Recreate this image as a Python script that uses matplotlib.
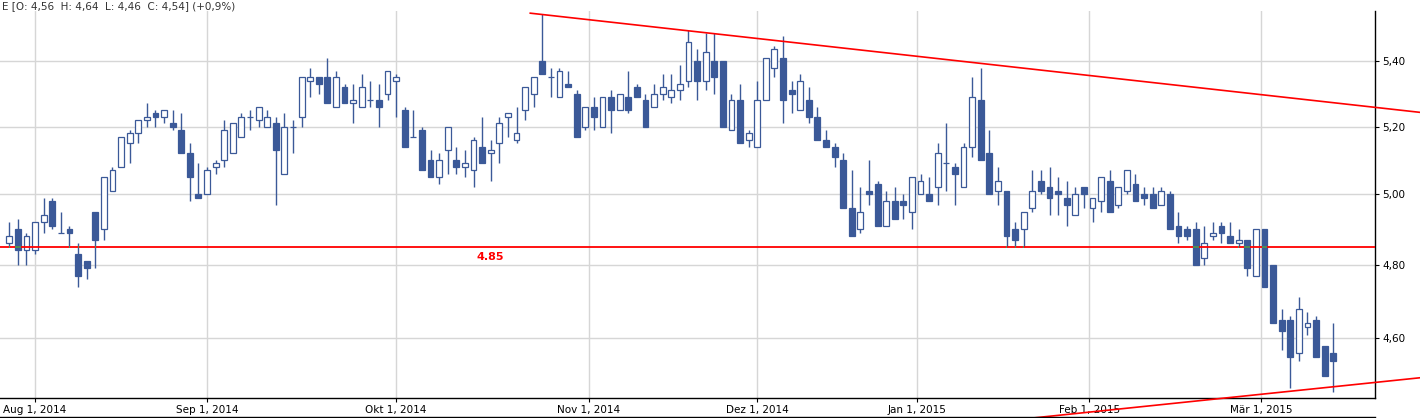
import numpy as np
import matplotlib
matplotlib.use("Agg")
import matplotlib.pyplot as plt
import matplotlib.ticker as mticker
from matplotlib.lines import Line2D

# ---- Style ----
plt.rcParams.update({
    "font.family": "DejaVu Sans",
    "font.size": 7.5,
})

BLUE = "#3b5998"
GRID = "#d6d6d6"

# ---- Data (daily candles, late Jul 2014 - mid Mar 2015) ----
OPEN = [4.86, 4.90, 4.84, 4.84, 4.92, 4.98, 4.89, 4.90, 4.83, 4.81,
        4.95, 4.90, 5.01, 5.08, 5.15, 5.18, 5.22, 5.24, 5.23, 5.21,
        5.19, 5.12, 5.00, 5.00, 5.08, 5.10, 5.12, 5.17, 5.23, 5.22,
        5.20, 5.21, 5.06, 5.20, 5.23, 5.34, 5.35, 5.35, 5.26, 5.32,
        5.27, 5.26, 5.28, 5.28, 5.30, 5.34, 5.25, 5.17, 5.19, 5.10,
        5.05, 5.13, 5.10, 5.08, 5.07, 5.14, 5.12, 5.15, 5.23, 5.16,
        5.25, 5.30, 5.40, 5.35, 5.29, 5.33, 5.30, 5.20, 5.26, 5.20,
        5.29, 5.25, 5.29, 5.32, 5.28, 5.26, 5.30, 5.29, 5.31, 5.34,
        5.40, 5.34, 5.40, 5.40, 5.19, 5.28, 5.16, 5.14, 5.28, 5.38,
        5.41, 5.31, 5.25, 5.28, 5.23, 5.16, 5.14, 5.10, 4.96, 4.90,
        5.01, 5.03, 4.91, 4.98, 4.98, 4.95, 5.00, 5.00, 5.02, 5.09,
        5.08, 5.02, 5.14, 5.28, 5.12, 5.01, 5.01, 4.90, 4.90, 4.96,
        5.04, 5.02, 5.01, 4.99, 4.94, 5.02, 4.96, 4.98, 5.04, 4.97,
        5.01, 5.03, 5.00, 5.00, 4.97, 5.00, 4.91, 4.90, 4.90, 4.82,
        4.88, 4.91, 4.88, 4.86, 4.87, 4.77, 4.90, 4.80, 4.65, 4.65,
        4.56, 4.63, 4.65, 4.58, 4.56]
HIGH = [4.92, 4.93, 4.89, 4.92, 4.99, 4.99, 4.95, 4.91, 4.86, 4.81,
        4.95, 5.05, 5.08, 5.17, 5.19, 5.22, 5.27, 5.25, 5.25, 5.25,
        5.24, 5.15, 5.09, 5.08, 5.10, 5.22, 5.21, 5.24, 5.25, 5.26,
        5.25, 5.23, 5.24, 5.22, 5.35, 5.38, 5.35, 5.41, 5.37, 5.33,
        5.33, 5.36, 5.34, 5.33, 5.37, 5.36, 5.26, 5.25, 5.20, 5.13,
        5.12, 5.20, 5.14, 5.13, 5.17, 5.23, 5.16, 5.23, 5.24, 5.26,
        5.32, 5.35, 5.55, 5.38, 5.38, 5.37, 5.31, 5.26, 5.29, 5.29,
        5.31, 5.30, 5.37, 5.33, 5.30, 5.33, 5.36, 5.36, 5.39, 5.50,
        5.44, 5.49, 5.49, 5.40, 5.30, 5.33, 5.19, 5.34, 5.41, 5.45,
        5.48, 5.34, 5.36, 5.32, 5.26, 5.19, 5.15, 5.12, 5.07, 5.02,
        5.10, 5.04, 5.01, 5.02, 5.00, 5.05, 5.06, 5.05, 5.15, 5.21,
        5.09, 5.15, 5.35, 5.38, 5.19, 5.08, 5.01, 4.92, 4.95, 5.07,
        5.07, 5.08, 5.05, 5.04, 5.02, 5.02, 4.99, 5.05, 5.07, 5.02,
        5.07, 5.06, 5.02, 5.02, 5.02, 5.01, 4.95, 4.91, 4.92, 4.91,
        4.92, 4.92, 4.92, 4.90, 4.87, 4.90, 4.90, 4.80, 4.68, 4.66,
        4.71, 4.67, 4.66, 4.58, 4.64]
LOW = [4.85, 4.80, 4.80, 4.83, 4.89, 4.90, 4.89, 4.85, 4.74, 4.76,
       4.79, 4.87, 5.01, 5.08, 5.09, 5.15, 5.20, 5.20, 5.21, 5.19,
       5.12, 4.98, 4.99, 5.00, 5.06, 5.08, 5.12, 5.17, 5.19, 5.20,
       5.20, 4.97, 5.06, 5.12, 5.20, 5.29, 5.30, 5.27, 5.26, 5.27,
       5.21, 5.26, 5.26, 5.20, 5.28, 5.23, 5.14, 5.17, 5.07, 5.05,
       5.03, 5.06, 5.06, 5.05, 5.02, 5.09, 5.04, 5.09, 5.17, 5.15,
       5.22, 5.26, 5.36, 5.29, 5.29, 5.32, 5.17, 5.19, 5.19, 5.20,
       5.18, 5.25, 5.24, 5.29, 5.20, 5.26, 5.28, 5.27, 5.28, 5.32,
       5.28, 5.31, 5.30, 5.20, 5.19, 5.15, 5.14, 5.14, 5.28, 5.35,
       5.21, 5.24, 5.25, 5.21, 5.16, 5.14, 5.08, 4.96, 4.88, 4.89,
       4.97, 4.91, 4.91, 4.93, 4.93, 4.90, 5.00, 4.98, 4.97, 5.01,
       4.97, 5.02, 5.11, 5.10, 5.00, 4.97, 4.85, 4.85, 4.85, 4.95,
       5.00, 4.94, 4.94, 4.91, 4.94, 4.96, 4.92, 4.95, 4.95, 4.96,
       5.00, 4.98, 4.97, 4.96, 4.97, 4.90, 4.86, 4.87, 4.80, 4.80,
       4.87, 4.86, 4.86, 4.85, 4.77, 4.77, 4.74, 4.64, 4.57, 4.47,
       4.54, 4.61, 4.55, 4.50, 4.46]
CLOSE = [4.88, 4.84, 4.88, 4.92, 4.94, 4.91, 4.89, 4.89, 4.77, 4.79,
         4.87, 5.05, 5.07, 5.17, 5.18, 5.22, 5.23, 5.23, 5.25, 5.20,
         5.12, 5.05, 4.99, 5.07, 5.09, 5.19, 5.21, 5.23, 5.23, 5.26,
         5.23, 5.13, 5.20, 5.20, 5.35, 5.35, 5.33, 5.27, 5.35, 5.27,
         5.28, 5.32, 5.28, 5.26, 5.37, 5.35, 5.14, 5.17, 5.07, 5.05,
         5.10, 5.20, 5.08, 5.09, 5.16, 5.09, 5.13, 5.21, 5.24, 5.18,
         5.32, 5.35, 5.36, 5.35, 5.37, 5.32, 5.17, 5.26, 5.23, 5.29,
         5.25, 5.30, 5.25, 5.29, 5.20, 5.30, 5.32, 5.31, 5.33, 5.46,
         5.34, 5.43, 5.35, 5.20, 5.28, 5.15, 5.18, 5.28, 5.41, 5.44,
         5.28, 5.30, 5.34, 5.23, 5.16, 5.14, 5.11, 4.96, 4.88, 4.95,
         5.00, 4.91, 4.98, 4.93, 4.97, 5.05, 5.04, 4.98, 5.12, 5.09,
         5.06, 5.14, 5.29, 5.10, 5.00, 5.04, 4.88, 4.87, 4.95, 5.01,
         5.01, 4.99, 5.00, 4.97, 5.00, 5.00, 4.99, 5.05, 4.95, 5.02,
         5.07, 4.98, 4.99, 4.96, 5.01, 4.90, 4.88, 4.88, 4.80, 4.86,
         4.89, 4.89, 4.86, 4.87, 4.79, 4.90, 4.74, 4.64, 4.62, 4.55,
         4.68, 4.64, 4.55, 4.50, 4.54]

MONTH_LABELS = ["Aug 1, 2014", "Sep 1, 2014", "Okt 1, 2014", "Nov 1, 2014",
                "Dez 1, 2014", "Jan 1, 2015", "Feb 1, 2015", "Mär 1, 2015"]
MONTH_POS = [3, 23, 45, 67.4, 87, 105.6, 125.6, 145.6]   # candle index of the 1st
PRICE_TICKS = [4.60, 4.80, 5.00, 5.20, 5.40]

SUPPORT = 4.85
UPPER_TREND_X = [60.6, 164.1]
UPPER_TREND_Y = [5.553, 5.243]
LOWER_TREND_X = [119.3, 164.1]
LOWER_TREND_Y = [4.393, 4.496]


def de(v, nd=2):
    return f"{v:.{nd}f}".replace(".", ",")


def main():
    o, h, l, c = (np.array(a) for a in (OPEN, HIGH, LOW, CLOSE))
    x = np.arange(len(o))
    up = c >= o

    W, H = 1420, 418
    fig = plt.figure(figsize=(W / 100, H / 100), dpi=100)
    ax = fig.add_axes([0, 20 / H, 1375 / W, 387 / H])
    ax.set_yscale("log")
    ax.set_xlim(-1.08, 158.86)
    ax.set_ylim(4.4436, 5.560)

    # candles
    width = 0.68
    ax.vlines(x, l, h, color=BLUE, lw=1.0, zorder=3)
    ax.bar(x[up], (c - o)[up], bottom=o[up], width=width, facecolor="white",
           edgecolor=BLUE, linewidth=0.9, zorder=4)
    ax.bar(x[~up], (o - c)[~up], bottom=c[~up], width=width, facecolor=BLUE,
           edgecolor=BLUE, linewidth=0.9, zorder=4)

    # support line + the green-ish overlap where it crosses blue pixels
    ax.axhline(SUPPORT, color="red", lw=1.3, zorder=5)
    for xi, oi, hi, li, ci in zip(x, o, h, l, c):
        if not (li <= SUPPORT <= hi):
            continue
        if ci < oi and ci <= SUPPORT <= oi:
            ax.plot([xi - width / 2, xi + width / 2], [SUPPORT, SUPPORT],
                    color="#3f9a62", lw=1.3, zorder=6, solid_capstyle="butt")
        elif not (min(oi, ci) <= SUPPORT <= max(oi, ci)):
            ax.plot([xi - 0.06, xi + 0.06], [SUPPORT, SUPPORT],
                    color="#3f9a62", lw=1.3, zorder=6, solid_capstyle="butt")
    ax.annotate(f"{SUPPORT:.2f}", (56, SUPPORT), xytext=(0, -4),
                textcoords="offset points", ha="center", va="top",
                color="red", fontweight="bold", fontsize=8)

    # trend lines (run past the plot area like the original)
    ax.plot(UPPER_TREND_X, UPPER_TREND_Y, color="red", lw=1.2, zorder=5, clip_on=False)
    ax.plot(LOWER_TREND_X, LOWER_TREND_Y, color="red", lw=1.2, zorder=5, clip_on=False)

    # axes
    ax.yaxis.tick_right()
    ax.set_yticks(PRICE_TICKS)
    ax.yaxis.set_minor_locator(mticker.NullLocator())
    ax.yaxis.set_major_formatter(mticker.FuncFormatter(lambda v, _: de(v)))
    ax.set_xticks(MONTH_POS)
    ax.set_xticklabels(MONTH_LABELS)
    ax.tick_params(axis="both", direction="out", length=3, width=0.8,
                   colors="black", labelsize=7.5, pad=2)
    ax.grid(True, color=GRID, lw=1.0)
    ax.set_axisbelow(True)
    for side in ("left", "top"):
        ax.spines[side].set_visible(False)
    for side in ("right", "bottom"):
        ax.spines[side].set_color("black")
        ax.spines[side].set_linewidth(1.0)

    fig.add_artist(Line2D([0, 1375 / W], [1.5 / H, 1.5 / H], color="black", lw=1.0))

    chg = (c[-1] / c[-2] - 1) * 100
    header = (f"E [O: {de(o[-1])}  H: {de(h[-1])}  L: {de(l[-1])}  "
              f"C: {de(c[-1])}] ({'+' if chg >= 0 else ''}{de(chg, 1)}%)")
    fig.text(2 / W, 1 - 1 / H, header, ha="left", va="top", fontsize=7.5, color="#333333")

    fig.savefig("out.png", dpi=100)
    plt.close(fig)


if __name__ == "__main__":
    main()
